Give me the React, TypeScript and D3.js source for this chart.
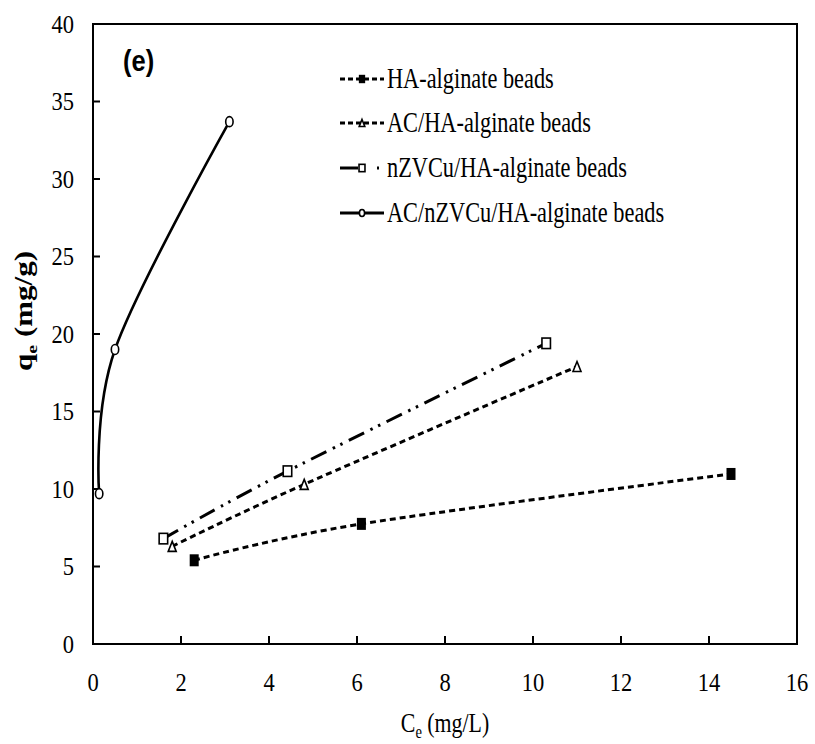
import React from "react";
import * as d3 from "d3";

const xTicks = [0, 2, 4, 6, 8, 10, 12, 14, 16];
const yTicks = [0, 5, 10, 15, 20, 25, 30, 35, 40];

const seriesNames = [
  "HA-alginate beads",
  "AC/HA-alginate beads",
  "nZVCu/HA-alginate beads",
  "AC/nZVCu/HA-alginate beads",
];
const haX = [2.3, 6.1, 14.5];
const haY = [5.4, 7.75, 10.97];
const acX = [1.8, 4.8, 11.0];
const acY = [6.3, 10.3, 17.9];
const nzX = [1.6, 4.42, 10.3];
const nzY = [6.8, 11.15, 19.4];
const acnzX = [0.14, 0.5, 3.1];
const acnzY = [9.7, 19.0, 33.7];

const W = 815;
const H = 744;
const L = 93, R = 797, T = 24, B = 644;
const SERIF = "Liberation Serif, DejaVu Serif, Times New Roman, serif";

type Kind = "fsq" | "tri" | "hsq" | "circ";

function Marker({ kind, x, y, s = 1 }: { kind: Kind; x: number; y: number; s?: number }) {
  if (kind === "fsq") {
    const w = 9 * s, h = 12 * s;
    return <rect x={x - w / 2} y={y - h / 2} width={w} height={h} fill="#000" />;
  }
  if (kind === "hsq") {
    const w = 8.5 * s, h = 10.5 * s;
    return <rect x={x - w / 2} y={y - h / 2} width={w} height={h} fill="#fff" stroke="#000" strokeWidth={1.6} />;
  }
  if (kind === "tri") {
    const w = 8 * s, h = 10 * s;
    const p = `${x},${y - h / 2} ${x + w / 2},${y + h / 2} ${x - w / 2},${y + h / 2}`;
    return <polygon points={p} fill="#fff" stroke="#000" strokeWidth={1.6} />;
  }
  return <ellipse cx={x} cy={y} rx={3.7 * s} ry={5 * s} fill="#fff" stroke="#000" strokeWidth={1.6} />;
}

export default function App() {
  const x = d3.scaleLinear().domain([0, 16]).range([L, R]);
  const y = d3.scaleLinear().domain([0, 40]).range([B, T]);
  const line = d3
    .line<[number, number]>()
    .x((d) => x(d[0]))
    .y((d) => y(d[1]))
    .curve(d3.curveCardinal.tension(0));

  const series: { xs: number[]; ys: number[]; kind: Kind; dash: string; sw: number }[] = [
    { xs: haX, ys: haY, kind: "fsq", dash: "6,4", sw: 3 },
    { xs: acX, ys: acY, kind: "tri", dash: "6,4", sw: 3 },
    { xs: nzX, ys: nzY, kind: "hsq", dash: "17,7,2.5,6,2.5,7", sw: 3 },
    { xs: acnzX, ys: acnzY, kind: "circ", dash: "none", sw: 2.6 },
  ];

  const legendY = [79, 123, 168, 213];

  return (
    <svg
      width={W}
      height={H}
      style={{ position: "absolute", left: 0, top: 0, background: "#fff" }}
      xmlns="http://www.w3.org/2000/svg"
    >
      <rect x={0} y={0} width={W} height={H} fill="#fff" />
      <rect x={L} y={T} width={R - L} height={B - T} fill="none" stroke="#000" strokeWidth={2} />
      {yTicks.map((t) => (
        <g key={"yt" + t}>
          <line x1={L} x2={L + 7} y1={y(t)} y2={y(t)} stroke="#000" strokeWidth={2} />
          <text
            transform={`translate(74,${y(t) + 8.5}) scale(0.9,1)`}
            textAnchor="end"
            style={{ fontFamily: SERIF, fontSize: 25 }}
            fill="#000"
          >
            {t}
          </text>
        </g>
      ))}
      {xTicks.map((t) => (
        <g key={"xt" + t}>
          <line x1={x(t)} x2={x(t)} y1={B} y2={B - 8} stroke="#000" strokeWidth={2} />
          <text
            transform={`translate(${x(t)},691) scale(0.9,1)`}
            textAnchor="middle"
            style={{ fontFamily: SERIF, fontSize: 25 }}
            fill="#000"
          >
            {t}
          </text>
        </g>
      ))}
      <text
        transform={`translate(445,732) scale(0.81,1)`}
        textAnchor="middle"
        style={{ fontFamily: SERIF, fontSize: 27 }}
        fill="#000"
      >
        C<tspan dy={6} style={{ fontSize: 18 }}>e</tspan>
        <tspan dy={-6}> (mg/L)</tspan>
      </text>
      <text
        transform={`translate(32,311) rotate(-90) scale(1,0.78)`}
        textAnchor="middle"
        style={{ fontFamily: SERIF, fontSize: 31, fontWeight: "bold" }}
        fill="#000"
      >
        q<tspan dy={7} style={{ fontSize: 20 }}>e</tspan>
        <tspan dy={-7}> (mg/g)</tspan>
      </text>
      <text
        transform={`translate(123,71) scale(0.88,1)`}
        style={{ fontFamily: "Liberation Sans, Arial, sans-serif", fontWeight: "bold", fontSize: 29 }}
        fill="#000"
      >
        (e)
      </text>
      {series.map((s, i) => {
        const pts = s.xs.map((v, j) => [v, s.ys[j]] as [number, number]);
        return (
          <g key={"s" + i}>
            <path
              d={line(pts) || ""}
              fill="none"
              stroke="#000"
              strokeWidth={s.sw}
              strokeDasharray={s.dash}
            />
            {pts.map((p, j) => (
              <Marker key={j} kind={s.kind} x={x(p[0])} y={y(p[1])} />
            ))}
          </g>
        );
      })}
      {series.map((s, i) => {
        const ly = legendY[i];
        let sample: React.ReactNode;
        if (s.kind === "hsq") {
          sample = (
            <g>
              <line x1={340} x2={358} y1={ly} y2={ly} stroke="#000" strokeWidth={3} />
              <line x1={377} x2={379} y1={ly} y2={ly} stroke="#000" strokeWidth={3} />
            </g>
          );
        } else {
          sample = (
            <line
              x1={340}
              x2={384}
              y1={ly}
              y2={ly}
              stroke="#000"
              strokeWidth={3}
              strokeDasharray={s.dash === "none" ? "none" : "5,3"}
            />
          );
        }
        return (
          <g key={"l" + i}>
            {sample}
            <Marker kind={s.kind} x={362} y={ly} s={0.7} />
            <text
              transform={`translate(387,${ly + 9}) scale(0.77,1)`}
              style={{ fontFamily: SERIF, fontSize: 29 }}
              fill="#000"
            >
              {seriesNames[i]}
            </text>
          </g>
        );
      })}
    </svg>
  );
}
